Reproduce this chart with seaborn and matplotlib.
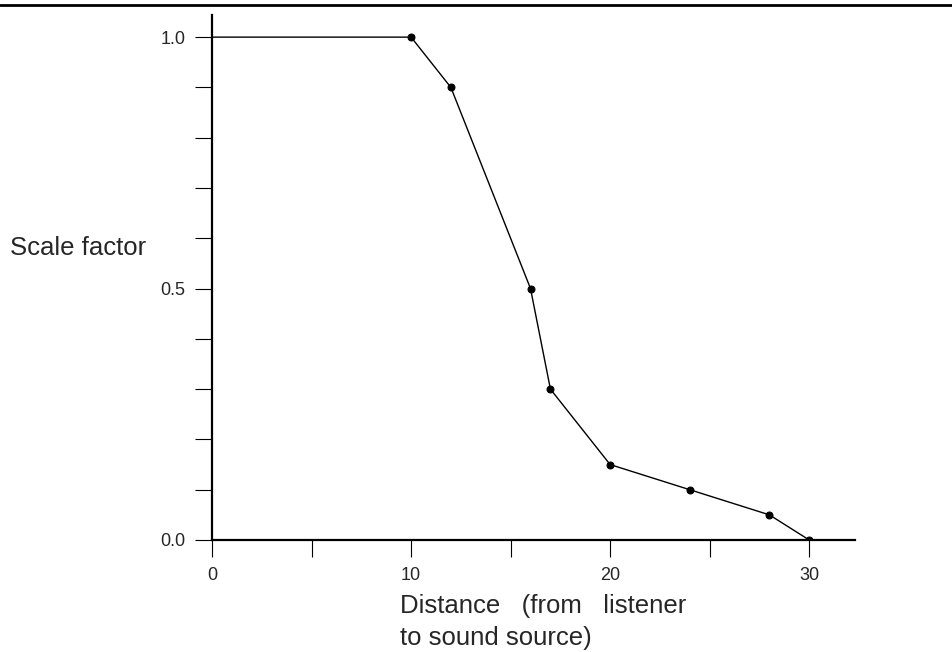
import matplotlib
matplotlib.use("Agg")
import matplotlib.pyplot as plt
from matplotlib.lines import Line2D
import pandas as pd
import seaborn as sns

# values
distance = [0, 10, 12, 16, 17, 20, 24, 28, 30]
scale = [1.0, 1.0, 0.9, 0.5, 0.3, 0.15, 0.1, 0.05, 0.0]
x_major = [0, 10, 20, 30]
x_minor = [5, 15, 25]
y_major = [0.0, 0.5, 1.0]
y_minor = [0.1, 0.2, 0.3, 0.4, 0.6, 0.7, 0.8, 0.9]

sns.set_style("white")
plt.rcParams["font.family"] = ["Liberation Sans", "DejaVu Sans"]

df = pd.DataFrame({"distance": distance, "scale": scale})

fig = plt.figure(figsize=(9.53, 6.52), dpi=100)
ax = fig.add_axes([212 / 953, 1 - 540 / 652, (855 - 212) / 953, (540 - 15) / 652])

sns.lineplot(data=df, x="distance", y="scale", ax=ax, color="black",
             linewidth=1.0, marker="o", markersize=5,
             markevery=list(range(1, len(df))),
             markeredgecolor="black", markerfacecolor="black")

ax.set_xlim(0, 32.3)
ax.set_ylim(0, 1.044)

ax.set_xticks(x_major)
ax.set_xticks(x_minor, minor=True)
ax.set_yticks(y_major)
ax.set_yticks(y_minor, minor=True)
ax.set_xticklabels([str(v) for v in x_major])
ax.set_yticklabels([f"{v:.1f}" for v in y_major])
ax.tick_params(axis="both", which="both", direction="out", length=12.2, width=0.8,
               color="black", labelsize=13, pad=7)
ax.tick_params(axis="x", which="both", bottom=True)
ax.tick_params(axis="y", which="both", left=True)

for s in ["top", "right"]:
    ax.spines[s].set_visible(False)
for s in ["left", "bottom"]:
    ax.spines[s].set_linewidth(1.6)
    ax.spines[s].set_color("black")

ax.set_xlabel("")
ax.set_ylabel("")
fig.text(10 / 953, 1 - 248 / 652, "Scale factor", fontsize=18.5, ha="left", va="center")
fig.text(400 / 953, 1 - 613 / 652, "Distance   (from   listener", fontsize=18.5,
         ha="left", va="baseline")
fig.text(400 / 953, 1 - 645 / 652, "to sound source)", fontsize=18.5,
         ha="left", va="baseline")

# rule across the top of the page
fig.add_artist(Line2D([0, 1], [1 - 5 / 652, 1 - 5 / 652], color="black", linewidth=2.0,
                      transform=fig.transFigure))

fig.savefig("out.png", dpi=100)
